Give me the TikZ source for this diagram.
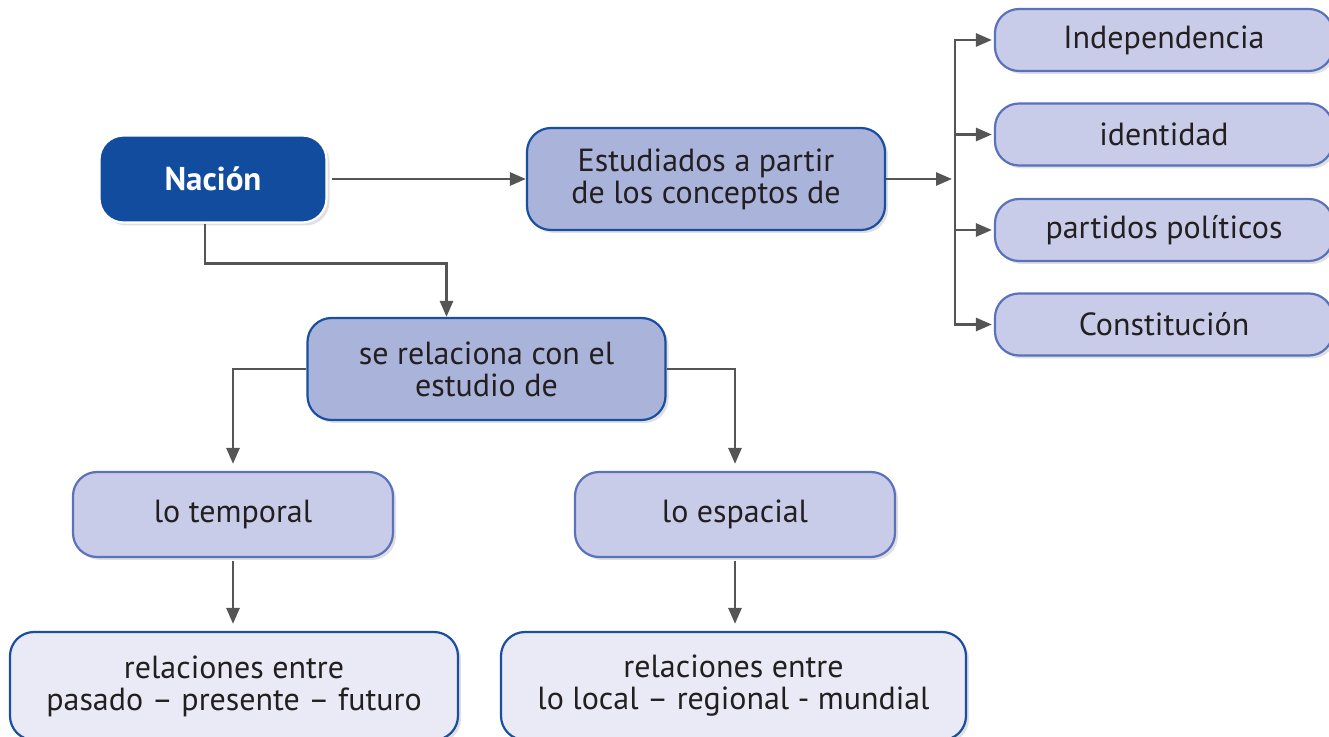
\documentclass[tikz,border=0pt]{standalone}
\usepackage{fontspec}
\setmainfont{PT Sans}
\usepackage{tikz}
\usetikzlibrary{arrows.meta,shadows}

\definecolor{azuloscuro}{RGB}{17,76,158}
\definecolor{bordeazul}{RGB}{26,79,160}
\definecolor{rellenomedio}{RGB}{170,180,219}
\definecolor{rellenoclaro}{RGB}{200,204,232}
\definecolor{bordeclaro}{RGB}{90,114,187}
\definecolor{rellenopalido}{RGB}{233,234,245}
\definecolor{gris}{RGB}{85,85,85}
\definecolor{texto}{RGB}{35,31,32}

\begin{document}
\begin{tikzpicture}[x=0.5pt,y=-0.5pt,
  caja/.style={rounded corners=12pt,line width=1.1pt,align=center,
    text=texto,font=\fontsize{16}{16}\selectfont,inner sep=0pt,
    drop shadow={shadow xshift=1.5pt,shadow yshift=-1.5pt,opacity=0.12,fill=black}},
  nacion/.style={caja,fill=azuloscuro,draw=white,text=white,
    font=\fontsize{16.5}{16}\selectfont\bfseries,minimum width=113.5pt,minimum height=43.5pt},
  medio/.style={caja,fill=rellenomedio,draw=bordeazul,minimum width=179pt,minimum height=51pt},
  concepto/.style={caja,fill=rellenoclaro,draw=bordeclaro,minimum width=169pt,minimum height=31pt},
  tema/.style={caja,fill=rellenoclaro,draw=bordeclaro,minimum width=160pt,minimum height=42.5pt},
  relacion/.style={caja,fill=rellenopalido,draw=bordeazul,minimum height=54pt},
  flecha/.style={draw=gris,line width=1.4pt,-{Triangle[length=8pt,width=6.5pt]}}]
\useasboundingbox (0,0) rectangle (1329,737);

% cajas
\node[nacion] (nacion) at (213,179) {Nación};
\node[medio] (estudio) at (706,179) {Estudiados a partir\\de los conceptos de};
\node[concepto] (indep) at (1164,40) {Independencia};
\node[concepto] (ident) at (1164,134.5) {identidad};
\node[concepto] (partidos) at (1164,230) {partidos políticos};
\node[concepto] (const) at (1164,324.5) {Constitución};
\node[medio] (rel) at (486.5,369) {se relaciona con el\\estudio de};
\node[tema] (temp) at (233,514.5) {lo temporal};
\node[tema] (esp) at (735,514.5) {lo espacial};
\node[relacion,minimum width=224pt] (pasado) at (234,686)
  {relaciones entre\\pasado – presente – futuro};
\node[relacion,minimum width=232.5pt] (local) at (733.5,686)
  {relaciones entre\\lo local – regional - mundial};
\coordinate (bus) at (955,179);

% conectores
\draw[flecha,shorten <=2pt] (nacion.east) -- (estudio.west);
\draw[flecha,shorten >=1.5pt] (estudio.east) -- (bus);
\foreach \c in {indep,ident,partidos,const}
  \draw[flecha,shorten >=1pt] (bus) |- (\c.west);
\draw[flecha] ([xshift=-4pt]nacion.south) -- ++(0,40) -| ([xshift=-20pt]rel.north);
\draw[flecha,shorten >=3.5pt] (rel.west) -| (temp.north);
\draw[flecha,shorten >=3.5pt] (rel.east) -| (esp.north);
\draw[flecha,shorten <=1.5pt,shorten >=3.5pt] (temp.south) -- (temp.south |- pasado.north);
\draw[flecha,shorten <=1.5pt,shorten >=3.5pt] (esp.south) -- (esp.south |- local.north);
\end{tikzpicture}
\end{document}
